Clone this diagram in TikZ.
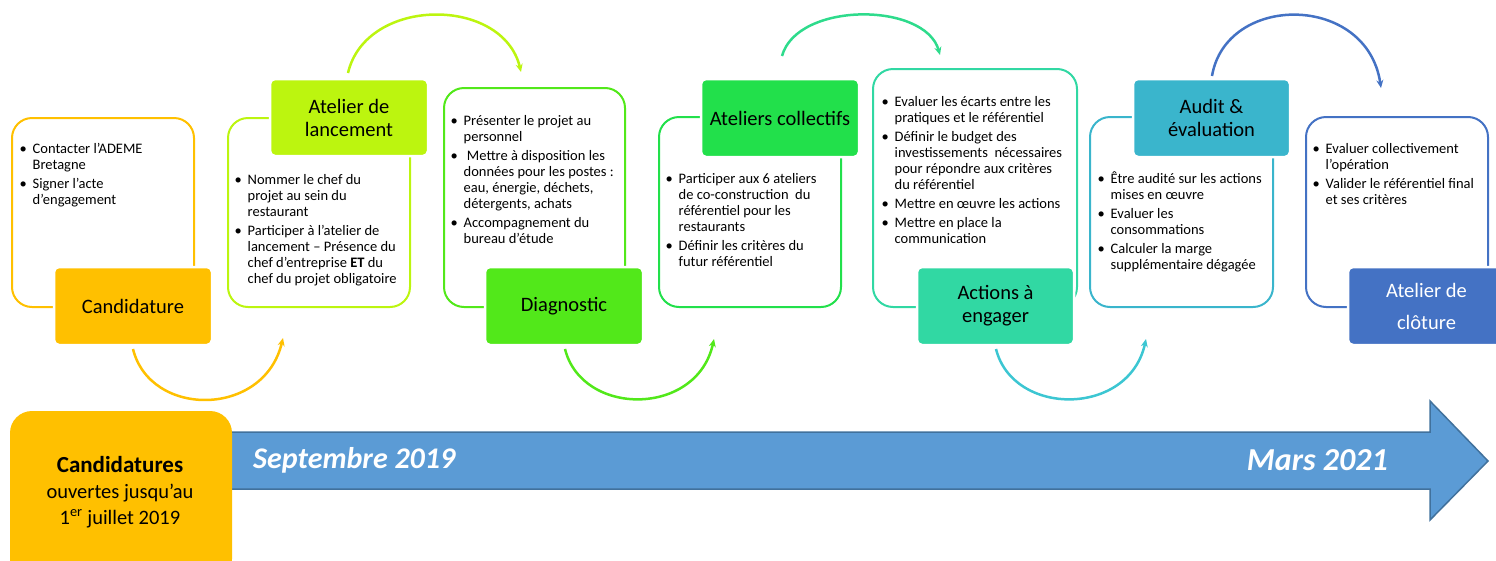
\documentclass[tikz,border=0pt]{standalone}
\usepackage{fontspec}
\setmainfont{Carlito}
\usetikzlibrary{arrows.meta}
\definecolor{cOr}{HTML}{FFC000}
\definecolor{cLi}{HTML}{BCF50F}
\definecolor{cGr}{HTML}{52E81A}
\definecolor{cGt}{HTML}{22E04B}
\definecolor{cTe}{HTML}{31D8A3}
\definecolor{cTa}{HTML}{2EDB8C}
\definecolor{cCy}{HTML}{3AB5CC}
\definecolor{cCa}{HTML}{3CC6D2}
\definecolor{cBl}{HTML}{4472C4}
\definecolor{cAr}{HTML}{5B9BD5}
\definecolor{cArB}{HTML}{41719C}
\newcommand{\bb}{\textbullet}
\begin{document}
\begin{tikzpicture}[x=1pt,y=-1pt,
  outl/.style={draw=#1, line width=2pt, rounded corners=20pt, inner sep=0pt},
  lab/.style={fill=#1, draw=white, line width=2.5pt, rounded corners=5pt,
    font=\fontsize{20.5}{23}\selectfont, align=center, inner sep=0pt},
  curv/.style={draw=#1, line width=2.5pt, -{Stealth[length=8pt,width=7pt]}},
  bl/.style={anchor=base west, inner sep=0pt, font=\fontsize{14.5}{16}\selectfont}
]
\useasboundingbox (0,0) rectangle (1496,560);
\renewcommand{\arraystretch}{1}
% outline boxes
\node[outl=cOr, minimum width=182pt, minimum height=189pt] (o1) at (103,212.5) {};
\node[outl=cLi, minimum width=182pt, minimum height=189pt] (o2) at (319,212.5) {};
\node[outl=cGr, minimum width=181pt, minimum height=219pt] (o3) at (534.5,197.5) {};
\node[outl=cGt, minimum width=182pt, minimum height=190pt] (o4) at (750,212) {};
\node[outl=cTe, minimum width=204pt, minimum height=238pt] (o5) at (975,188) {};
\node[outl=cCy, minimum width=183pt, minimum height=190pt] (o6) at (1181.5,212) {};
\node[outl=cBl, minimum width=182pt, minimum height=190pt] (o7) at (1397,212) {};
% label boxes
\node[lab=cOr, minimum width=158pt, minimum height=78pt] (l1) at (133,306) {Candidature};
\node[lab=cLi, minimum width=158pt, minimum height=77pt] (l2) at (349,117.5) {Atelier de\\lancement};
\node[lab=cGr, minimum width=158pt, minimum height=78pt] (l3) at (564,306) {Diagnostic};
\node[lab=cGt, minimum width=158pt, minimum height=78pt] (l4) at (780,118) {Ateliers collectifs};
\node[lab=cTe, minimum width=157pt, minimum height=78pt] (l5) at (995.5,306) {Actions à\\engager};
\node[lab=cCy, minimum width=157pt, minimum height=78pt] (l6) at (1211.5,118) {Audit \&\\évaluation};
\node[lab=cBl, minimum width=157pt, minimum height=78pt, text=white,
  font=\fontsize{20.5}{32}\selectfont] (l7) at (1426.5,306) {Atelier de\\clôture};
% bullet texts
\node[bl] (t1) at (19.5,153.5) {\begin{tabular}[t]{@{}p{13pt}@{}l@{}}
\bb & Contacter l’ADEME\\ & Bretagne\\[3pt]
\bb & Signer l’acte\\ & d’engagement\end{tabular}};
\node[bl] (t2) at (234.5,184.5) {\begin{tabular}[t]{@{}p{13pt}@{}l@{}}
\bb & Nommer le chef du\\ & projet au sein du\\ & restaurant\\[3pt]
\bb & Participer à l’atelier de\\ & lancement – Présence du\\ & chef d’entreprise \textbf{ET} du\\ & chef du projet obligatoire\end{tabular}};
\node[bl] (t3) at (450.5,125.5) {\begin{tabular}[t]{@{}p{13pt}@{}l@{}}
\bb & Présenter le projet au\\ & personnel\\[3pt]
\bb & \ Mettre à disposition les\\ & données pour les postes :\\ & eau, énergie, déchets,\\ & détergents, achats\\[3pt]
\bb & Accompagnement du\\ & bureau d’étude\end{tabular}};
\node[bl] (t4) at (665.5,183.5) {\begin{tabular}[t]{@{}p{13pt}@{}l@{}}
\bb & Participer aux 6 ateliers\\ & de co-construction\ \ du\\ & référentiel pour les\\ & restaurants\\[3pt]
\bb & Définir les critères du\\ & futur référentiel\end{tabular}};
\node[bl] (t5) at (881.5,106.5) {\begin{tabular}[t]{@{}p{13pt}@{}l@{}}
\bb & Evaluer les écarts entre les\\ & pratiques et le référentiel\\[3pt]
\bb & Définir le budget des\\ & investissements\ \ nécessaires\\ & pour répondre aux critères\\ & du référentiel\\[3pt]
\bb & Mettre en œuvre les actions\\[3pt]
\bb & Mettre en place la\\ & communication\end{tabular}};
\node[bl] (t6) at (1097.5,183.5) {\begin{tabular}[t]{@{}p{13pt}@{}l@{}}
\bb & Être audité sur les actions\\ & mises en œuvre\\[3pt]
\bb & Evaluer les\\ & consommations\\[3pt]
\bb & Calculer la marge\\ & supplémentaire dégagée\end{tabular}};
\node[bl] (t7) at (1312.5,153.5) {\begin{tabular}[t]{@{}p{13pt}@{}l@{}}
\bb & Evaluer collectivement\\ & l’opération\\[3pt]
\bb & Valider le référentiel final\\ & et ses critères\end{tabular}};
% arc endpoints
\coordinate (a1s) at (133,349); \coordinate (a1e) at (283,338);
\coordinate (a2s) at (348,73);  \coordinate (a2e) at (521,72);
\coordinate (a3s) at (565,349); \coordinate (a3e) at (714,339);
\coordinate (a4s) at (782,56);  \coordinate (a4e) at (940,55);
\coordinate (a5s) at (996,349); \coordinate (a5e) at (1146,339);
\coordinate (a6s) at (1212,76); \coordinate (a6e) at (1381,88);
\draw[curv=cOr] (a1s) .. controls (150,418) and (264,418) .. (a1e);
\draw[curv=cLi] (a2s) .. controls (366,-4) and (503,-4) .. (a2e);
\draw[curv=cGr] (a3s) .. controls (582,417) and (697,417) .. (a3e);
\draw[curv=cTa] (a4s) .. controls (797,1.5) and (925,1.5) .. (a4e);
\draw[curv=cCa] (a5s) .. controls (1013,417) and (1129,417) .. (a5e);
\draw[curv=cBl] (a6s) .. controls (1226,-7) and (1367,-7) .. (a6e);
% timeline arrow
\draw[fill=cAr, draw=cArB, line width=1.5pt, line join=miter]
  (231,432) -- (1430,432) -- (1430,401) -- (1488,461) -- (1430,520) -- (1430,489) -- (231,489) -- cycle;
\node[anchor=west, text=white, font=\fontsize{30}{32}\selectfont\bfseries\itshape, inner sep=0pt] (sep) at (253,460) {Septembre 2019};
\node[anchor=east, text=white, font=\fontsize{32}{34}\selectfont\bfseries\itshape, inner sep=0pt] (mar) at (1388,460) {Mars 2021};
% bottom-left box
\node[fill=cOr, rounded corners=22pt, minimum width=222pt, minimum height=170pt, inner sep=0pt] (cand) at (121,496) {};
\node[align=center, font=\fontsize{20.5}{26}\selectfont, inner sep=0pt] (candt) at (120,492)
  {{\bfseries\fontsize{23}{26}\selectfont Candidatures}\\ouvertes jusqu’au\\1\textsuperscript{er} juillet 2019};
\end{tikzpicture}
\end{document}
